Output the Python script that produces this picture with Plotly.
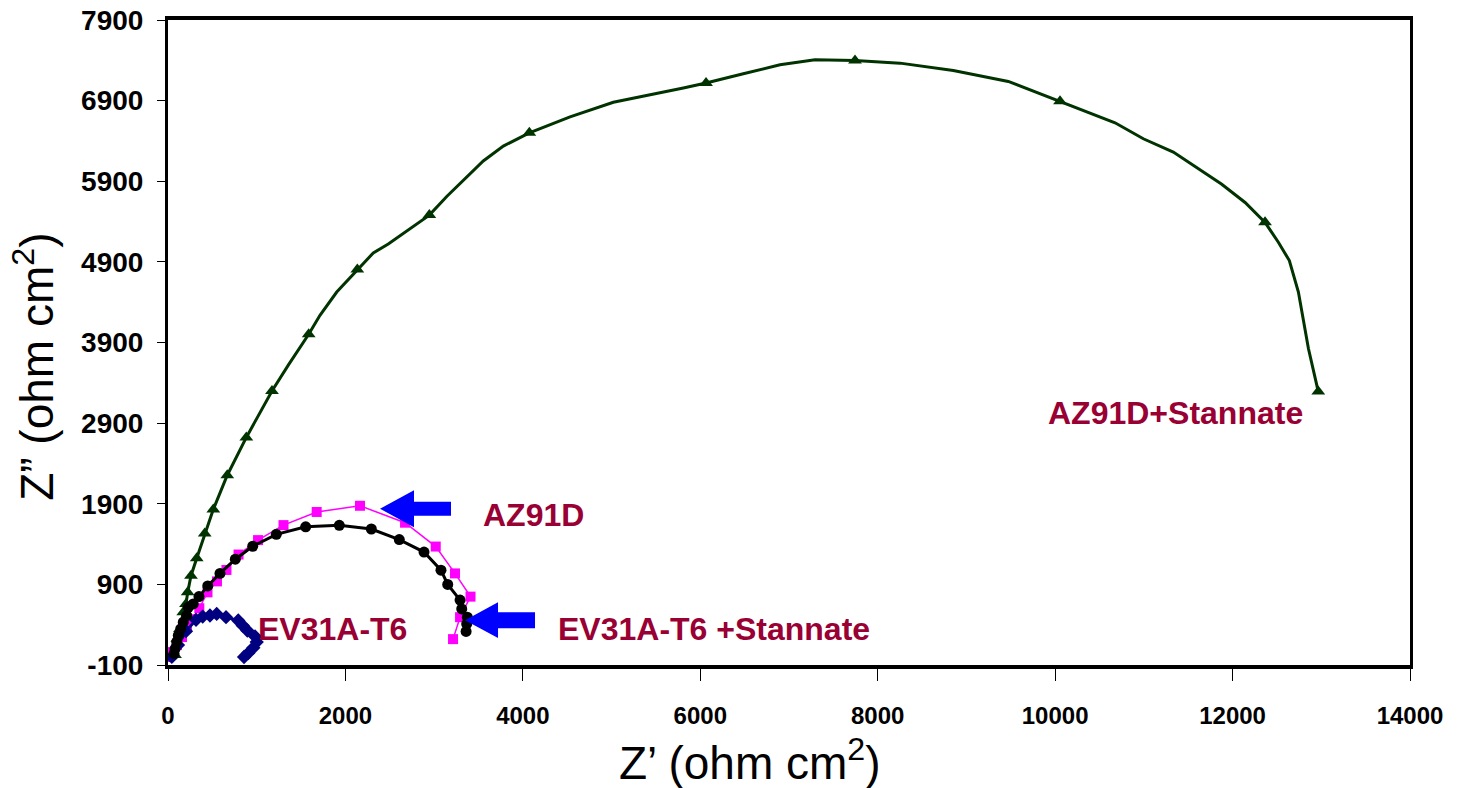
import plotly.graph_objects as go

# ---------------- data ----------------
# AZ91D+Stannate: full line path
az_sn_line_x = [60, 79, 105, 135, 172, 203, 222, 259, 324, 414, 511, 668, 883, 1172, 1356, 1586,
                1713, 1902, 2134, 2314, 2483, 2946, 3142, 3554, 3780, 4073, 4532, 5020, 5809,
                6065, 6485, 6899, 7293, 7744, 8252, 8852, 9472, 10055, 10675, 10994, 11332,
                11878, 12141, 12366, 12516, 12640, 12742, 12855, 12966]
az_sn_line_y = [-22, 24, 225, 348, 554, 657, 801, 1007, 1225, 1530, 1830, 2254, 2723, 3299, 3620, 4002,
                4237, 4526, 4805, 5011, 5122, 5480, 5711, 6151, 6336, 6501, 6699, 6879, 7057,
                7118, 7233, 7344, 7406, 7398, 7365, 7274, 7138, 6891, 6625, 6427, 6262,
                5863, 5637, 5390, 5143, 4916, 4526, 3826, 3291]
# AZ91D+Stannate: points carrying a marker
az_sn_mk_x = [79, 105, 135, 172, 203, 222, 259, 324, 414, 511, 668, 883, 1172, 1586, 2134, 2946,
              4073, 6065, 7744, 10055, 12366, 12966]
az_sn_mk_y = [24, 225, 348, 554, 657, 801, 1007, 1225, 1530, 1830, 2254, 2723, 3299, 4002, 4805, 5480,
              6501, 7118, 7398, 6891, 5390, 3291]

# AZ91D
az_x = [11, 45, 101, 158, 214, 271, 353, 445, 552, 659, 795, 1015, 1302, 1676, 2164, 2672,
        3018, 3235, 3410, 3292, 3213]
az_y = [-1, 60, 147, 246, 369, 468, 604, 801, 937, 1079, 1270, 1449, 1635, 1798, 1875, 1665,
        1369, 1036, 748, 493, 221]

# EV31A-T6 +Stannate
ev_sn_x = [68, 79, 98, 116, 143, 172, 211, 229, 285, 349, 448, 586, 759, 955, 1221, 1552,
           1931, 2292, 2607, 2886, 3077, 3153, 3292, 3311, 3374, 3367, 3360]
ev_sn_y = [40, 101, 184, 267, 348, 431, 513, 616, 657, 749, 881, 1036, 1212, 1373, 1521, 1614,
           1632, 1587, 1456, 1301, 1076, 900, 705, 595, 493, 410, 317]

# EV31A-T6
ev_x = [43, 113, 203, 316, 391, 473, 549, 654, 792, 842, 894, 981, 1000, 962, 905, 857]
ev_y = [0, 147, 320, 460, 501, 514, 533, 493, 452, 390, 328, 254, 184, 114, 48, -1]

x_ticks = [0, 2000, 4000, 6000, 8000, 10000, 12000, 14000]
y_ticks = [-100, 900, 1900, 2900, 3900, 4900, 5900, 6900, 7900]

labels = ["AZ91D+Stannate", "AZ91D", "EV31A-T6", "EV31A-T6 +Stannate"]
label_x = [11352, 4115, 1849, 6155]
label_y = [3023, 1764, 344, 344]

# block arrows: tip x, tip y, head-base x, shaft-end x, head half-height, shaft half-thickness
arrows = [
    (2390, 1838, 2773, 3190, 228, 86),
    (3348, 456, 3720, 4137, 222, 99),
]

FONT = "Liberation Sans, Arial"

# ---------------- figure ----------------
fig = go.Figure()

fig.add_trace(go.Scatter(x=az_sn_line_x, y=az_sn_line_y, mode="lines",
                         line=dict(color="#003300", width=3), showlegend=False))
fig.add_trace(go.Scatter(x=az_sn_mk_x, y=az_sn_mk_y, mode="markers",
                         marker=dict(symbol="triangle-up", size=12, color="#003300"),
                         showlegend=False))
fig.add_trace(go.Scatter(x=az_x, y=az_y, mode="lines+markers",
                         line=dict(color="#FF00FF", width=1.5),
                         marker=dict(symbol="square", size=10, color="#FF00FF"),
                         showlegend=False))
fig.add_trace(go.Scatter(x=ev_x, y=ev_y, mode="lines+markers",
                         line=dict(color="#000080", width=3),
                         marker=dict(symbol="diamond", size=11, color="#000080"),
                         showlegend=False))
fig.add_trace(go.Scatter(x=ev_sn_x, y=ev_sn_y, mode="lines+markers",
                         line=dict(color="#000000", width=3),
                         marker=dict(symbol="circle", size=11, color="#000000"),
                         showlegend=False))

for t, lx, ly in zip(labels, label_x, label_y):
    fig.add_annotation(x=lx, y=ly, text="<b>%s</b>" % t, showarrow=False,
                       xanchor="center", yanchor="middle",
                       font=dict(family=FONT, size=32, color="#990033"))

for tx, ty, hx, sx, hh, st in arrows:
    path = ("M %g,%g L %g,%g L %g,%g L %g,%g L %g,%g L %g,%g L %g,%g Z" %
            (tx, ty, hx, ty + hh, hx, ty + st, sx, ty + st, sx, ty - st, hx, ty - st, hx, ty - hh))
    fig.add_shape(type="path", path=path, xref="x", yref="y",
                  fillcolor="#0000FF", line=dict(width=0))

# axis titles as annotations (placed like the reference)
fig.add_annotation(xref="paper", yref="paper", x=0.4686, y=-0.147,
                   text="Z’ (ohm cm<sup>2</sup>)", showarrow=False,
                   xanchor="center", yanchor="middle",
                   font=dict(family=FONT, size=46, color="black"))
fig.add_annotation(xref="paper", yref="paper", x=-0.108, y=0.462,
                   text="Z” (ohm cm<sup>2</sup>)", showarrow=False, textangle=-90,
                   xanchor="center", yanchor="middle",
                   font=dict(family=FONT, size=46, color="black"))

fig.update_xaxes(range=[0, 14000], tickvals=x_ticks, ticktext=["<b>%d</b>" % v for v in x_ticks],
                 ticks="outside", ticklen=12, tickwidth=1, tickcolor="black",
                 ticklabelstandoff=14,
                 showline=True, linewidth=4, linecolor="black", mirror=True,
                 showgrid=False, zeroline=False, automargin=False,
                 tickfont=dict(family=FONT, size=24, color="black"))
fig.update_yaxes(range=[-100, 7900], tickvals=y_ticks, ticktext=["<b>%d</b>" % v for v in y_ticks],
                 ticks="outside", ticklen=8, tickwidth=1, tickcolor="black",
                 ticklabelstandoff=8,
                 showline=True, linewidth=3, linecolor="black", mirror=True,
                 showgrid=False, zeroline=False, automargin=False,
                 tickfont=dict(family=FONT, size=28, color="black"))

fig.update_layout(width=1457, height=788, margin=dict(l=168, r=47, t=20, b=123),
                  paper_bgcolor="white", plot_bgcolor="white",
                  font=dict(family=FONT))

fig.write_html("out.html")
